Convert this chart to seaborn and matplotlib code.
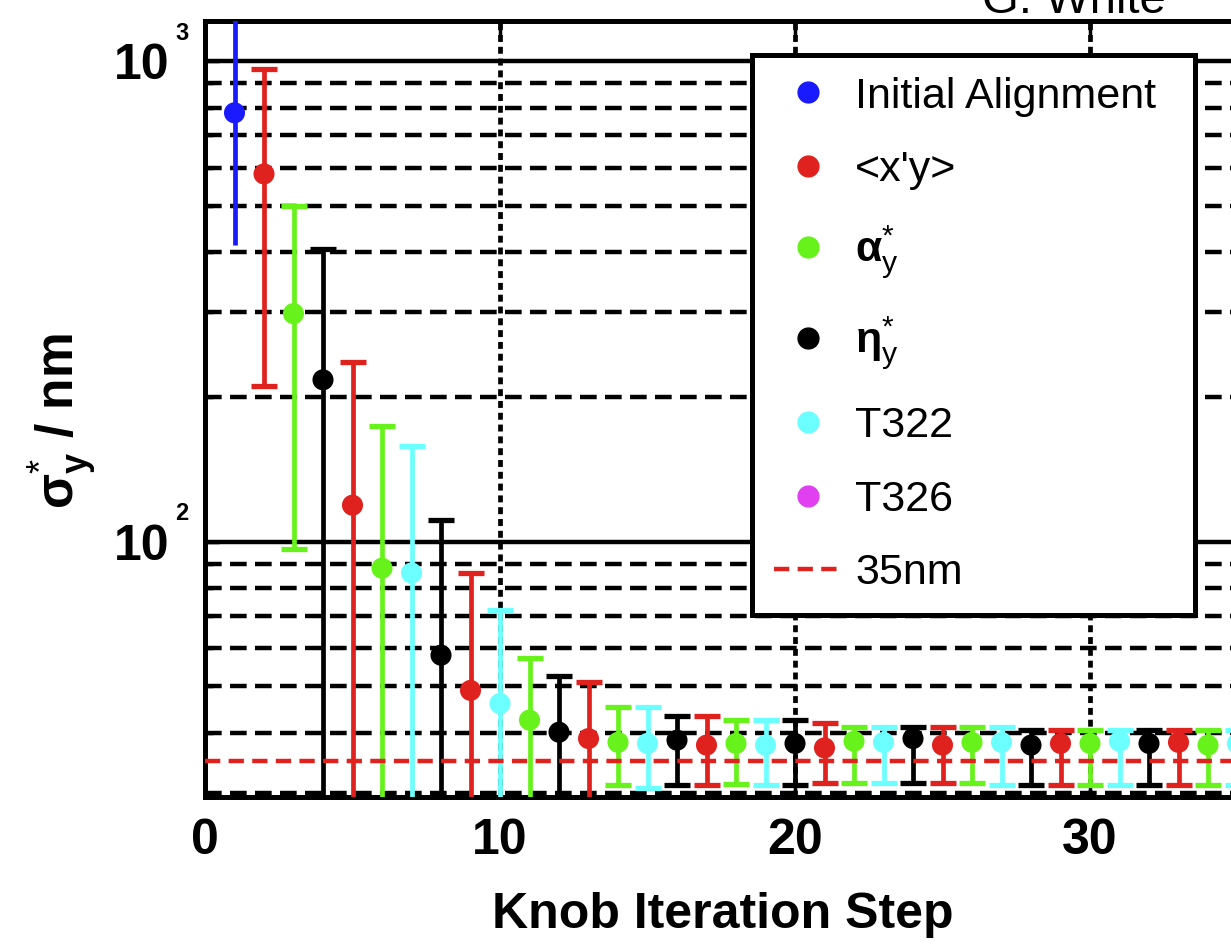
import numpy as np
import pandas as pd
import matplotlib
matplotlib.use("Agg")
import matplotlib.pyplot as plt
from matplotlib.lines import Line2D
from matplotlib.ticker import FixedLocator, FuncFormatter, NullFormatter
import seaborn as sns

# knob iteration steps and which knob was used at each step
steps = list(range(1, 36))
knob = ["init", "xy", "alpha", "eta", "xy", "alpha", "T322", "eta", "xy", "T322",
        "alpha", "eta", "xy", "alpha", "T322", "eta", "xy", "alpha", "T322", "eta",
        "xy", "alpha", "T322", "eta", "xy", "alpha", "T322", "eta", "xy", "alpha",
        "T322", "eta", "xy", "alpha", "T322"]

# sigma_y* (nm) with error bar ends
sigma = [780, 582, 298, 217, 119, 88, 86, 58, 49, 46,
         42.5, 40.1, 38.9, 38.2, 38.0, 38.6, 37.7, 38.0, 37.7, 38.0,
         37.2, 38.4, 38.2, 38.9, 37.7, 38.2, 38.2, 37.7, 38.0, 38.0,
         38.4, 38.0, 38.2, 37.7, 38.0]
upper = [1500, 962, 500, 406, 236, 174, 158, 110.6, 86.2, 71.9,
         57.1, 52.6, 51.1, 45.2, 45.2, 43.3, 43.3, 42.5, 42.6, 42.5,
         42.0, 41.1, 41.1, 41.1, 41.1, 41.1, 41.1, 40.5, 40.5, 40.5,
         40.5, 40.5, 40.5, 40.5, 40.5]
lower = [415, 211, 96.7, 20, 20, 20, 20, 20, 20, 20,
         20, 20, 20, 31.1, 30.7, 31.1, 31.1, 31.3, 31.1, 31.1,
         31.4, 31.4, 31.4, 31.4, 31.4, 31.4, 31.1, 31.1, 31.1, 31.1,
         31.1, 31.1, 31.1, 31.1, 31.1]
target = 35

legend_keys = ["init", "xy", "alpha", "eta", "T322", "T326"]
legend_labels = ["Initial Alignment", "<x'y>",
                 r"$\mathbf{\alpha}^{*}_{\mathrm{y}}$", r"$\mathbf{\eta}^{*}_{\mathrm{y}}$",
                 "T322", "T326"]
colors = {"init": "#1a1aff", "xy": "#e0221f", "alpha": "#66f21a", "eta": "#000000",
          "T322": "#6bffff", "T326": "#e040f0"}

sns.set_style("white")
plt.rcParams["font.family"] = ["Liberation Sans", "DejaVu Sans"]
plt.rcParams["text.color"] = "black"
plt.rcParams["axes.labelcolor"] = "black"
plt.rcParams["xtick.color"] = "black"
plt.rcParams["ytick.color"] = "black"
plt.rcParams["mathtext.fontset"] = "custom"
plt.rcParams["mathtext.rm"] = "Liberation Sans"
plt.rcParams["mathtext.it"] = "Liberation Sans:italic"
plt.rcParams["mathtext.bf"] = "Liberation Sans:bold"
plt.rcParams["lines.scale_dashes"] = False

df = pd.DataFrame({"step": steps, "knob": knob, "sigma": sigma,
                   "upper": upper, "lower": lower})

fig = plt.figure(figsize=(12.31, 9.44), dpi=100)
ax = fig.add_axes([205 / 1231, 1 - 797 / 944, 1180 / 1231, 776 / 944])

ax.set_yscale("log")

for k, sub in df.groupby("knob"):
    ax.errorbar(sub["step"], sub["sigma"],
                yerr=[sub["sigma"] - sub["lower"], sub["upper"] - sub["sigma"]],
                fmt="none", ecolor=colors[k], elinewidth=3.4,
                capsize=0 if k == "init" else 9.5, capthick=3.8, zorder=4)

sns.scatterplot(data=df, x="step", y="sigma", hue="knob", palette=colors,
                s=230, linewidth=0, legend=False, ax=ax, zorder=5)

ax.axhline(target, color=colors["xy"], lw=3.2, ls=(0, (11, 6)), zorder=6)

ax.set_xlim(0, 40)
ax.set_ylim(29.4, 1211)
ax.set_xticks([0, 10, 20, 30])
major_y = [100, 1000]
ax.yaxis.set_major_locator(FixedLocator(major_y))
ax.yaxis.set_minor_locator(FixedLocator([30, 40, 50, 60, 70, 80, 90,
                                         200, 300, 400, 500, 600, 700, 800, 900]))
ax.yaxis.set_major_formatter(FuncFormatter(lambda v, p: "10"))
ax.yaxis.set_minor_formatter(NullFormatter())
# small exponents next to the "10" labels
for v in major_y:
    ax.annotate(str(int(round(np.log10(v)))), xy=(0, v),
                xycoords=("axes fraction", "data"), xytext=(-21.5, 20),
                textcoords="offset points", ha="left", va="center",
                fontsize=17, fontweight="bold", annotation_clip=False)

ax.set_axisbelow(True)
ax.grid(True, which="major", axis="y", color="black", lw=3.2, ls="-")
ax.grid(True, which="minor", axis="y", color="black", lw=3.2, ls=(0, (12, 6)))
ax.grid(True, which="major", axis="x", color="black", lw=3.4, ls=(0, (5, 3.5)))

ax.tick_params(which="both", direction="in", bottom=True, top=True,
               left=True, right=True, width=2.5, color="black")
ax.tick_params(which="major", length=10)
ax.tick_params(which="minor", length=6)
ax.tick_params(axis="x", labelsize=36, pad=15)
ax.tick_params(axis="y", labelsize=36, pad=26)
for lab in ax.get_xticklabels() + ax.get_yticklabels():
    lab.set_fontweight("bold")

for sp in ax.spines.values():
    sp.set_visible(True)
    sp.set_color("black")
    sp.set_linewidth(3.6)

ax.set_xlabel("Knob Iteration Step", fontsize=36, fontweight="bold")
ax.xaxis.set_label_coords(0.4386, -0.122)
ax.set_ylabel(r"$\mathbf{\sigma}^{*}_{\mathbf{y}}$ / nm", fontsize=37, fontweight="bold")
ax.yaxis.set_label_coords(-0.09, 0.485)

handles = [Line2D([], [], marker="o", ls="none", color=colors[k], markersize=15)
           for k in legend_keys]
handles.append(Line2D([], [], color=colors["xy"], lw=3.2, ls=(0, (11, 6))))
labels = legend_labels + ["35nm"]
leg = fig.legend(handles, labels, loc="upper left",
                 bbox_to_anchor=(752 / 1231, 1 - 55 / 944 - 0.01, 443 / 1231, 0.01),
                 mode="expand", borderaxespad=0, fontsize=31, frameon=True,
                 fancybox=False, framealpha=1, edgecolor="black",
                 handlelength=1.6, handletextpad=0.3, labelspacing=0.78,
                 borderpad=0.5)
leg.get_frame().set_linewidth(3.6)

fig.text(982 / 1231, 1 - 13 / 944, "G. White", fontsize=34, va="baseline")

fig.savefig("out.png", dpi=100)
